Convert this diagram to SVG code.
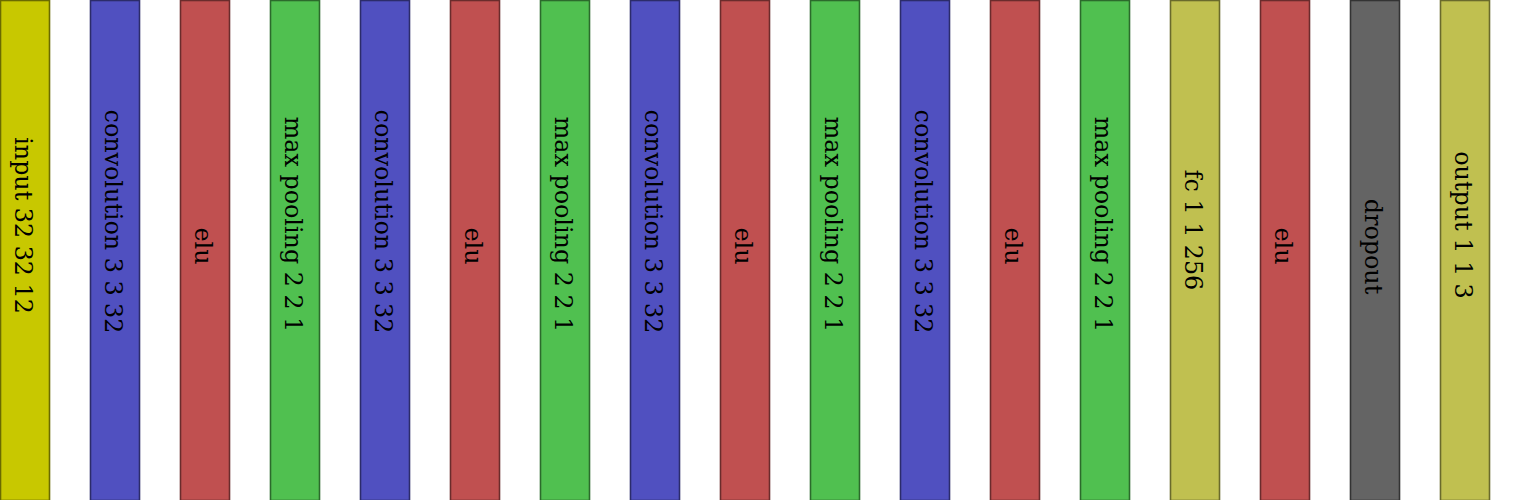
<svg xmlns="http://www.w3.org/2000/svg" width="1530" height="500" viewBox="0 0 1530 500">
<style>
rect{stroke-width:1.6}
text{font-family:"DejaVu Serif",serif;font-size:23.8px;fill:#000;text-anchor:middle}
.in{fill:#c8c800;stroke:#6a6a00}
.conv{fill:#5050c0;stroke:#2c2c6a}
.elu{fill:#c05050;stroke:#6a2c2c}
.pool{fill:#50c050;stroke:#2c6a2c}
.fc{fill:#c0c050;stroke:#6a6a2c}
.drop{fill:#646464;stroke:#333333}
</style>
<rect width="1530" height="500" fill="#ffffff" style="stroke:none"/>
<g id="n0"><rect class="in" x="0.5" y="0.5" width="49" height="500"/><text transform="translate(15,225.5) rotate(90)">input 32 32 12</text></g>
<g id="n1"><rect class="conv" x="90.5" y="0.5" width="49" height="500"/><text transform="translate(105,221.5) rotate(90)">convolution 3 3 32</text></g>
<g id="n2"><rect class="elu" x="180.5" y="0.5" width="49" height="500"/><text transform="translate(195,246) rotate(90)">elu</text></g>
<g id="n3"><rect class="pool" x="270.5" y="0.5" width="49" height="500"/><text transform="translate(285,224.5) rotate(90)">max pooling 2 2 1</text></g>
<g id="n4"><rect class="conv" x="360.5" y="0.5" width="49" height="500"/><text transform="translate(375,221.5) rotate(90)">convolution 3 3 32</text></g>
<g id="n5"><rect class="elu" x="450.5" y="0.5" width="49" height="500"/><text transform="translate(465,246) rotate(90)">elu</text></g>
<g id="n6"><rect class="pool" x="540.5" y="0.5" width="49" height="500"/><text transform="translate(555,224.5) rotate(90)">max pooling 2 2 1</text></g>
<g id="n7"><rect class="conv" x="630.5" y="0.5" width="49" height="500"/><text transform="translate(645,221.5) rotate(90)">convolution 3 3 32</text></g>
<g id="n8"><rect class="elu" x="720.5" y="0.5" width="49" height="500"/><text transform="translate(735,246) rotate(90)">elu</text></g>
<g id="n9"><rect class="pool" x="810.5" y="0.5" width="49" height="500"/><text transform="translate(825,224.5) rotate(90)">max pooling 2 2 1</text></g>
<g id="n10"><rect class="conv" x="900.5" y="0.5" width="49" height="500"/><text transform="translate(915,221.5) rotate(90)">convolution 3 3 32</text></g>
<g id="n11"><rect class="elu" x="990.5" y="0.5" width="49" height="500"/><text transform="translate(1005,246) rotate(90)">elu</text></g>
<g id="n12"><rect class="pool" x="1080.5" y="0.5" width="49" height="500"/><text transform="translate(1095,224.5) rotate(90)">max pooling 2 2 1</text></g>
<g id="n13"><rect class="fc" x="1170.5" y="0.5" width="49" height="500"/><text transform="translate(1185,230) rotate(90)">fc 1 1 256</text></g>
<g id="n14"><rect class="elu" x="1260.5" y="0.5" width="49" height="500"/><text transform="translate(1275,246) rotate(90)">elu</text></g>
<g id="n15"><rect class="drop" x="1350.5" y="0.5" width="49" height="500"/><text transform="translate(1365,246.5) rotate(90)">dropout</text></g>
<g id="n16"><rect class="fc" x="1440.5" y="0.5" width="49" height="500"/><text transform="translate(1455,225) rotate(90)">output 1 1 3</text></g>
<g id="connectors"></g>
</svg>
